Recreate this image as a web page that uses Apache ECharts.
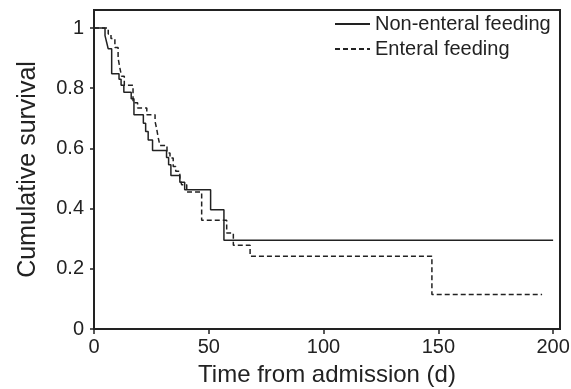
<!DOCTYPE html>
<html>
<head>
<meta charset="utf-8">
<script src="https://cdn.jsdelivr.net/npm/echarts@6/dist/echarts.min.js"></script>
<style>
  html, body { margin: 0; padding: 0; background: #fff; }
  #chart { width: 571px; height: 389px; }
</style>
</head>
<body>
<div id="chart"></div>
<script>
// Kaplan-Meier steps: time of event (d) and survival after the event
const nonEnteralTime = [0, 4.8, 5.5, 6.2, 7.7, 10.9, 11.8, 13, 16.2, 17.4, 21.5, 22.5, 23.6, 25.5, 31.6, 32.5, 33.5, 37.4, 39.5, 50.8, 56.6, 200];
const nonEnteralSurv = [1, 0.975, 0.953, 0.931, 0.848, 0.83, 0.81, 0.787, 0.765, 0.712, 0.684, 0.656, 0.628, 0.593, 0.57, 0.546, 0.51, 0.488, 0.463, 0.396, 0.295, 0.295];

const enteralTime = [0, 6.2, 7.4, 9.1, 10.5, 11.2, 12, 13.2, 17, 19, 23, 26.6, 27.3, 28, 28.7, 31.8, 33.1, 34.5, 35.6, 37.4, 38.2, 40.4, 46.9, 57.8, 60.7, 68, 147.2, 195.2];
const enteralSurv = [1, 0.98, 0.965, 0.935, 0.9, 0.87, 0.84, 0.81, 0.752, 0.734, 0.712, 0.69, 0.665, 0.635, 0.61, 0.585, 0.568, 0.54, 0.524, 0.502, 0.479, 0.455, 0.361, 0.319, 0.278, 0.242, 0.115, 0.115];

const xTicks = [0, 50, 100, 150, 200];
const yTicks = [0, 0.2, 0.4, 0.6, 0.8, 1];

const toPairs = (t, s) => t.map((v, i) => [v, s[i]]);

const chart = echarts.init(document.getElementById('chart'));
const ink = '#222';
const font = 'Liberation Sans';

chart.setOption({
  animation: false,
  grid: {
    left: 94,
    right: 11,
    top: 10,
    bottom: 60,
    outerBoundsMode: 'none',
    show: true,
    borderColor: ink,
    borderWidth: 2,
  },
  legend: {
    orient: 'vertical',
    left: 334,
    top: 14,
    padding: 0,
    itemWidth: 35,
    itemHeight: 12,
    itemGap: 5,
    itemStyle: { opacity: 0 },
    textStyle: { color: ink, fontSize: 20, fontFamily: font },
    data: ['Non-enteral feeding', 'Enteral feeding'],
  },
  xAxis: {
    type: 'value',
    min: 0,
    max: 203,
    name: 'Time from admission (d)',
    nameLocation: 'middle',
    nameGap: 34,
    nameTextStyle: { color: ink, fontSize: 24, fontFamily: font },
    splitLine: { show: false },
    axisLine: { show: true, lineStyle: { color: ink, width: 2 } },
    axisTick: { show: true, length: 5, lineStyle: { color: ink, width: 1.5 }, customValues: xTicks },
    axisLabel: { color: ink, fontSize: 20, fontFamily: font, margin: 8, customValues: xTicks },
  },
  yAxis: {
    type: 'value',
    min: 0,
    max: 1.06,
    name: 'Cumulative survival',
    nameLocation: 'middle',
    nameRotate: 90,
    nameGap: 53,
    nameTextStyle: { color: ink, fontSize: 25, fontFamily: font },
    splitLine: { show: false },
    axisLine: { show: true, lineStyle: { color: ink, width: 2 } },
    axisTick: { show: true, length: 4, lineStyle: { color: ink, width: 1.5 }, customValues: yTicks },
    axisLabel: {
      color: ink,
      fontSize: 20,
      fontFamily: font,
      margin: 10,
      customValues: yTicks,
      formatter: (v) => String(Math.round(v * 10) / 10),
    },
  },
  series: [
    {
      name: 'Non-enteral feeding',
      type: 'line',
      step: 'end',
      symbol: 'none',
      lineStyle: { color: ink, width: 1.5, type: 'solid' },
      itemStyle: { color: ink },
      data: toPairs(nonEnteralTime, nonEnteralSurv),
    },
    {
      name: 'Enteral feeding',
      type: 'line',
      step: 'end',
      symbol: 'none',
      lineStyle: { color: ink, width: 1.5, type: [5, 3] },
      itemStyle: { color: ink },
      data: toPairs(enteralTime, enteralSurv),
    },
  ],
});
</script>
</body>
</html>
